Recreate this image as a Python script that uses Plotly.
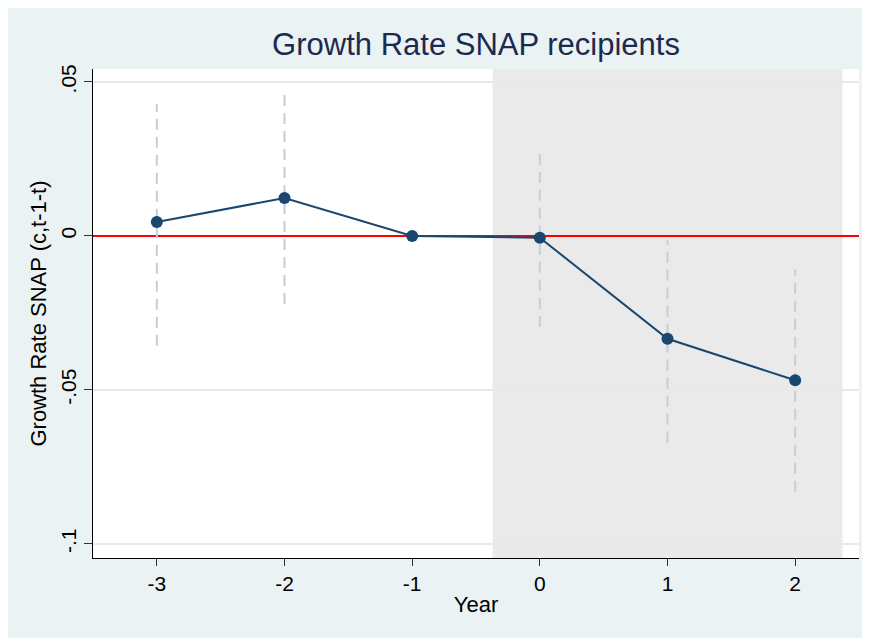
import plotly.graph_objects as go

# ---- data ----
years = [-3, -2, -1, 0, 1, 2]
coef = [0.0045, 0.0123, 0.0, -0.0006, -0.0334, -0.0469]
ci_years = [-3, -2, 0, 1, 2]
ci_low = [-0.0357, -0.0221, -0.0295, -0.0672, -0.0831]
ci_high = [0.0429, 0.0467, 0.0285, -0.0013, -0.0110]

y_tickvals = [-0.1, -0.05, 0, 0.05]
y_ticktext = ["-.1", "-.05", "0", ".05"]
x_tickvals = [-3, -2, -1, 0, 1, 2]
x_ticktext = ["-3", "-2", "-1", "0", "1", "2"]

x_range = [-3.5, 2.5]
y_range = [-0.1046, 0.0542]
shade_start, shade_end = -0.37, 2.37
ref_value = 0

title_text = "Growth Rate SNAP recipients"
x_title = "Year"
y_title = "Growth Rate SNAP (c,t-1-t)"

# ---- style ----
W, H = 870, 638
L, T = 85, 61
pw, ph = 766, 489
R, B = W - L - pw, H - T - ph
navy = "#1a476f"
ci_color = "#C4CDD9"
bg = "#EAF2F3"
font_family = "Liberation Sans, Arial, sans-serif"

fig = go.Figure()

# reference line at zero (drawn first so markers sit on top)
fig.add_trace(go.Scatter(
    x=x_range, y=[ref_value, ref_value], mode="lines",
    line=dict(color="#FF0000", width=2),
    hoverinfo="skip", showlegend=False,
))

# confidence intervals as dashed vertical segments
ci_x, ci_y = [], []
for xv, lo, hi in zip(ci_years, ci_low, ci_high):
    ci_x += [xv, xv, None]
    ci_y += [lo, hi, None]
fig.add_trace(go.Scatter(
    x=ci_x, y=ci_y, mode="lines",
    line=dict(color=ci_color, width=2, dash="11px,7px"),
    hoverinfo="skip", showlegend=False,
))

# point estimates
fig.add_trace(go.Scatter(
    x=years, y=coef, mode="lines+markers",
    line=dict(color=navy, width=2),
    marker=dict(color=navy, size=12),
    showlegend=False,
))

shapes = [
    # shaded post-period
    dict(type="rect", xref="x", yref="paper", x0=shade_start, x1=shade_end,
         y0=0, y1=1, fillcolor="#EAEAEA", line=dict(width=0), layer="below"),
]

fig.update_layout(
    width=W, height=H,
    margin=dict(l=L, r=R, t=T, b=B, pad=0),
    paper_bgcolor=bg, plot_bgcolor="white",
    font=dict(family=font_family, color="black"),
    title=dict(text=title_text, x=(L + pw / 2) / W, xanchor="center",
               y=1 - 36 / H, yanchor="middle", yref="container",
               font=dict(size=31, color="#1c2a50", family=font_family)),
    shapes=shapes,
    showlegend=False,
)

fig.update_xaxes(
    range=x_range, tickvals=x_tickvals, ticktext=x_ticktext,
    showgrid=False, zeroline=False,
    showline=True, linecolor="black", linewidth=1.2,
    ticks="outside", ticklen=7, tickcolor="#333333", tickwidth=1.2,
    tickfont=dict(size=21, color="black"),
    title=dict(text=x_title, font=dict(size=22, color="black"), standoff=2),
)
fig.update_yaxes(
    range=y_range, tickvals=y_tickvals, ticktext=y_ticktext,
    tickangle=-90,
    showgrid=True, gridcolor="#E3EBEC", gridwidth=1.5, zeroline=False,
    showline=True, linecolor="black", linewidth=1.2,
    ticks="outside", ticklen=8, tickcolor="#333333", tickwidth=1.2,
    tickfont=dict(size=21, color="black"),
    title=dict(text=y_title, font=dict(size=22, color="black"), standoff=3),
)

fig.write_html("out.html")
